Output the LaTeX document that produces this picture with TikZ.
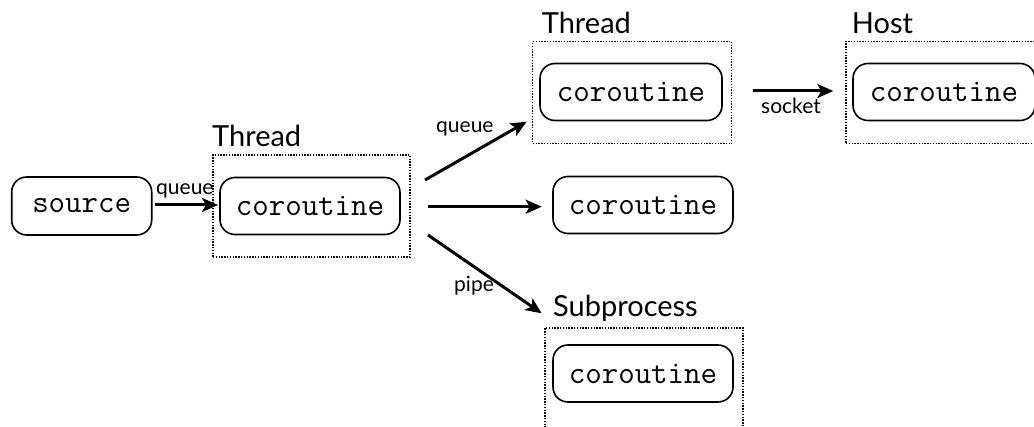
\documentclass[tikz,border=0pt]{standalone}
\usepackage{fontspec}
\setmainfont{Lato}
\usetikzlibrary{arrows.meta}
\tikzset{
  co/.style={draw, line width=1.6pt, rounded corners=15pt, minimum width=180pt, minimum height=57pt, inner sep=0pt, font=\fontsize{32}{34}\selectfont\ttfamily},
  grp/.style={draw, line width=1.3pt, dash pattern=on 1.4pt off 1.4pt, minimum width=199pt, minimum height=102pt, inner sep=0pt},
  big/.style={anchor=base west, inner sep=0pt, font=\fontsize{29}{32}\selectfont},
  small/.style={anchor=base west, inner sep=0pt, font=\fontsize{21}{23}\selectfont},
  arr/.style={line width=3pt, -{Stealth[length=16pt,width=14pt,inset=4pt]}}
}
\begin{document}
\begin{tikzpicture}[x=1pt,y=-1pt]
\useasboundingbox (0,0) rectangle (1034,427);
\clip (0,0) rectangle (1034,427);
% groups
\node[grp, minimum width=197pt] (th1) at (311.5,206) {};
\node[grp] (th2) at (632.2,92.8) {};
\node[grp, minimum width=214pt] (host) at (953,92.5) {};
\node[grp, minimum width=198pt] (sub) at (644,379) {};
% labels of groups
\node[big] (lth1) at (212,146.7) {Thread};
\node[big] (lth2) at (541.7,33.3) {Thread};
\node[big] (lhost) at (851.7,33.3) {Host};
\node[big] (lsub) at (553,316.7) {Subprocess};
% coroutines
\node[co, minimum width=140pt, minimum height=58pt] (src) at (81.7,206) {source};
\node[co] (co1) at (310,206) {coroutine};
\node[co, minimum width=182pt] (co2) at (631,92) {coroutine};
\node[co, minimum width=182pt] (co3) at (944,92) {coroutine};
\node[co] (co4) at (643,205) {coroutine};
\node[co] (co5) at (643,373.5) {coroutine};
% arrow endpoints
\coordinate (s1) at (155,205);
\coordinate (e1) at (218,205);
\coordinate (s2) at (425,180);
\coordinate (e2) at (526.7,121.7);
\coordinate (s3) at (428,206.7);
\coordinate (e3) at (541.7,206.7);
\coordinate (s4) at (428,235);
\coordinate (e4) at (541.7,313.3);
\coordinate (s5) at (752.7,91);
\coordinate (e5) at (833.3,91);
\draw[arr] (s1) -- (e1);
\draw[arr] (s2) -- (e2);
\draw[arr] (s3) -- (e3);
\draw[arr] (s4) -- (e4);
\draw[arr] (s5) -- (e5);
% arrow labels
\node[small] (q1) at (156,195) {queue};
\node[small] (q2) at (436,133) {queue};
\node[small] (p1) at (454,291.7) {pipe};
\node[small] (sk) at (761,113.3) {socket};
\end{tikzpicture}
\end{document}
